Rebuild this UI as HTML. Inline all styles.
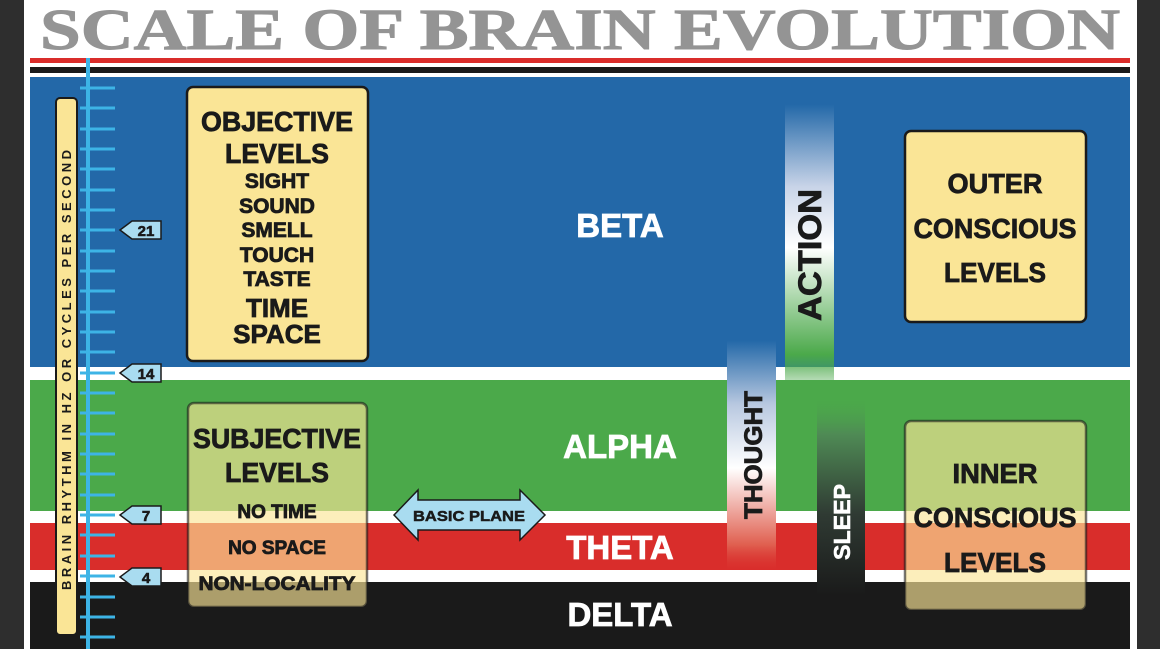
<!DOCTYPE html>
<html><head><meta charset="utf-8"><style>
html,body{margin:0;padding:0;background:#2e2e2e;}
svg{display:block}
</style></head><body>
<svg width="1160" height="649" viewBox="0 0 1160 649" xmlns="http://www.w3.org/2000/svg" font-family="'Liberation Sans', sans-serif" font-weight="bold">
<defs>
<linearGradient id="gT" x1="0" y1="0" x2="0" y2="1">
<stop offset="0" stop-color="#2368a8" stop-opacity="0"/>
<stop offset="0.1" stop-color="#2368a8"/>
<stop offset="0.35" stop-color="#b8c8e0"/>
<stop offset="0.6" stop-color="#ffffff"/>
<stop offset="0.9" stop-color="#e06050"/>
<stop offset="1" stop-color="#d92d2b" stop-opacity="0.3"/>
</linearGradient>
<linearGradient id="gA" x1="0" y1="0" x2="0" y2="1">
<stop offset="0" stop-color="#2368a8" stop-opacity="0"/>
<stop offset="0.08" stop-color="#2368a8"/>
<stop offset="0.35" stop-color="#c8d4e8"/>
<stop offset="0.55" stop-color="#ffffff"/>
<stop offset="0.9" stop-color="#4ba94a"/>
<stop offset="1" stop-color="#4ba94a" stop-opacity="0.3"/>
</linearGradient>
<linearGradient id="gS" x1="0" y1="0" x2="0" y2="1">
<stop offset="0" stop-color="#4ba94a" stop-opacity="0.3"/>
<stop offset="0.15" stop-color="#4f8a55"/>
<stop offset="0.5" stop-color="#2f3a33"/>
<stop offset="0.85" stop-color="#1a1a1a"/>
<stop offset="1" stop-color="#1a1a1a" stop-opacity="0.3"/>
</linearGradient>
</defs>
<rect x="0" y="0" width="1160" height="649" fill="#2e2e2e"/>
<rect x="24" y="0" width="1113" height="649" fill="#ffffff"/>
<text x="40" y="49" font-family="'Liberation Serif', serif" font-size="58" fill="#949494" stroke="#949494" stroke-width="1" textLength="1080" lengthAdjust="spacingAndGlyphs">SCALE OF BRAIN EVOLUTION</text>
<rect x="30" y="58" width="1100" height="5" fill="#d92d2b"/>
<rect x="30" y="67" width="1100" height="6" fill="#1a1a1a"/>
<rect x="30" y="77" width="1100" height="290" fill="#2368a8"/>
<rect x="30" y="380" width="1100" height="131" fill="#4ba94a"/>
<rect x="30" y="523" width="1100" height="47" fill="#d92d2b"/>
<rect x="30" y="582" width="1100" height="67" fill="#1a1a1a"/>

<rect x="56" y="98" width="21" height="537" rx="4" fill="#fae596" stroke="#1a1a1a" stroke-width="2"/>
<text transform="translate(71,370) rotate(-90)" font-size="13" fill="#1a1a1a" text-anchor="middle" textLength="440" lengthAdjust="spacing">BRAIN RHYTHM IN HZ OR CYCLES PER SECOND</text>
<rect x="86" y="58" width="4" height="591" fill="#3db4e6"/>
<g stroke="#3db4e6" stroke-width="3">
<line x1="80" x2="115" y1="88" y2="88"/><line x1="80" x2="115" y1="108" y2="108"/><line x1="80" x2="115" y1="129" y2="129"/><line x1="80" x2="115" y1="149" y2="149"/><line x1="80" x2="115" y1="169" y2="169"/><line x1="80" x2="115" y1="190" y2="190"/><line x1="80" x2="115" y1="210" y2="210"/><line x1="80" x2="115" y1="230" y2="230"/><line x1="80" x2="115" y1="251" y2="251"/><line x1="80" x2="115" y1="271" y2="271"/><line x1="80" x2="115" y1="291" y2="291"/><line x1="80" x2="115" y1="312" y2="312"/><line x1="80" x2="115" y1="332" y2="332"/><line x1="80" x2="115" y1="352" y2="352"/><line x1="80" x2="115" y1="373" y2="373"/><line x1="80" x2="115" y1="393" y2="393"/><line x1="80" x2="115" y1="413" y2="413"/><line x1="80" x2="115" y1="434" y2="434"/><line x1="80" x2="115" y1="454" y2="454"/><line x1="80" x2="115" y1="474" y2="474"/><line x1="80" x2="115" y1="495" y2="495"/><line x1="80" x2="115" y1="515" y2="515"/><line x1="80" x2="115" y1="535" y2="535"/><line x1="80" x2="115" y1="556" y2="556"/><line x1="80" x2="115" y1="576" y2="576"/><line x1="80" x2="115" y1="597" y2="597"/><line x1="80" x2="115" y1="617" y2="617"/><line x1="80" x2="115" y1="637" y2="637"/>
</g>
<g stroke="#1a1a1a" stroke-width="1.5" fill="#a9dcf0">
<path d="M120,230 L132,221 L161,221 L161,239 L132,239 Z"/>
<path d="M120,373 L132,364 L161,364 L161,382 L132,382 Z"/>
<path d="M120,515 L132,506 L161,506 L161,524 L132,524 Z"/>
<path d="M120,577 L132,568 L161,568 L161,586 L132,586 Z"/>
</g>
<g font-size="15" fill="#1a1a1a" stroke="#1a1a1a" stroke-width="0.6" text-anchor="middle">
<text x="146" y="236">21</text><text x="146" y="379">14</text><text x="146" y="521">7</text><text x="146" y="583">4</text>
</g>

<rect x="187" y="87" width="181" height="274" rx="6" fill="#fae596" stroke="#1a1a1a" stroke-width="2.5"/>
<g fill="#1a1a1a" stroke="#1a1a1a" stroke-width="0.8" text-anchor="middle">
<text x="277" y="131" font-size="28" textLength="152" lengthAdjust="spacingAndGlyphs">OBJECTIVE</text>
<text x="277" y="163" font-size="28" textLength="104" lengthAdjust="spacingAndGlyphs">LEVELS</text>
<text x="277" y="188" font-size="21">SIGHT</text>
<text x="277" y="213" font-size="21">SOUND</text>
<text x="277" y="237" font-size="21">SMELL</text>
<text x="277" y="262" font-size="21">TOUCH</text>
<text x="277" y="286" font-size="21">TASTE</text>
<text x="277" y="317" font-size="26">TIME</text>
<text x="277" y="343" font-size="26">SPACE</text>
</g>

<g fill="#ffffff" stroke="#ffffff" stroke-width="0.8" text-anchor="middle" font-size="33">
<text x="620" y="237">BETA</text>
<text x="620" y="458">ALPHA</text>
<text x="620" y="559">THETA</text>
<text x="620" y="626">DELTA</text>
</g>

<path d="M394,515 L418,490 L418,500 L520,500 L520,490 L545,515 L520,540 L520,530 L418,530 L418,540 Z" fill="#a9dcf0" stroke="#1a1a1a" stroke-width="1.5"/>
<text x="469" y="521" font-size="15" fill="#1a1a1a" stroke="#1a1a1a" stroke-width="0.5" text-anchor="middle" textLength="112" lengthAdjust="spacingAndGlyphs">BASIC PLANE</text>

<rect x="727" y="315" width="49" height="255" fill="url(#gT)"/>
<rect x="785" y="80" width="49" height="305" fill="url(#gA)"/>
<rect x="817" y="400" width="48" height="230" fill="url(#gS)"/>
<text transform="translate(762,455) rotate(-90)" font-size="25" fill="#1a1a1a" stroke="#1a1a1a" stroke-width="0.8" text-anchor="middle" textLength="128" lengthAdjust="spacingAndGlyphs">THOUGHT</text>
<text transform="translate(821,255) rotate(-90)" font-size="32" fill="#1a1a1a" stroke="#1a1a1a" stroke-width="0.8" text-anchor="middle" textLength="132" lengthAdjust="spacingAndGlyphs">ACTION</text>
<text transform="translate(850,522) rotate(-90)" font-size="23" fill="#ffffff" stroke="#ffffff" stroke-width="0.6" text-anchor="middle" textLength="76" lengthAdjust="spacingAndGlyphs">SLEEP</text>

<rect x="188" y="403" width="179" height="204" rx="6" fill="#fae596" fill-opacity="0.65" stroke="#1a1a1a" stroke-opacity="0.6" stroke-width="2.5"/>
<g fill="#1a1a1a" stroke="#1a1a1a" stroke-width="0.8" text-anchor="middle">
<text x="277" y="448" font-size="28" textLength="168" lengthAdjust="spacingAndGlyphs">SUBJECTIVE</text>
<text x="277" y="482" font-size="28" textLength="104" lengthAdjust="spacingAndGlyphs">LEVELS</text>
<text x="277" y="518" font-size="19">NO TIME</text>
<text x="277" y="554" font-size="19">NO SPACE</text>
<text x="277" y="590" font-size="19" textLength="157" lengthAdjust="spacingAndGlyphs">NON-LOCALITY</text>
</g>

<rect x="905" y="131" width="181" height="191" rx="6" fill="#fae596" stroke="#1a1a1a" stroke-width="2.5"/>
<g fill="#1a1a1a" stroke="#1a1a1a" stroke-width="0.8" text-anchor="middle" font-size="28">
<text x="995" y="193" textLength="95" lengthAdjust="spacingAndGlyphs">OUTER</text>
<text x="995" y="238" textLength="163" lengthAdjust="spacingAndGlyphs">CONSCIOUS</text>
<text x="995" y="282" textLength="102" lengthAdjust="spacingAndGlyphs">LEVELS</text>
</g>
<rect x="905" y="421" width="181" height="189" rx="6" fill="#fae596" fill-opacity="0.65" stroke="#1a1a1a" stroke-opacity="0.6" stroke-width="2.5"/>
<g fill="#1a1a1a" stroke="#1a1a1a" stroke-width="0.8" text-anchor="middle" font-size="28">
<text x="995" y="483" textLength="85" lengthAdjust="spacingAndGlyphs">INNER</text>
<text x="995" y="527" textLength="163" lengthAdjust="spacingAndGlyphs">CONSCIOUS</text>
<text x="995" y="572" textLength="102" lengthAdjust="spacingAndGlyphs">LEVELS</text>
</g>
</svg>
</body></html>
